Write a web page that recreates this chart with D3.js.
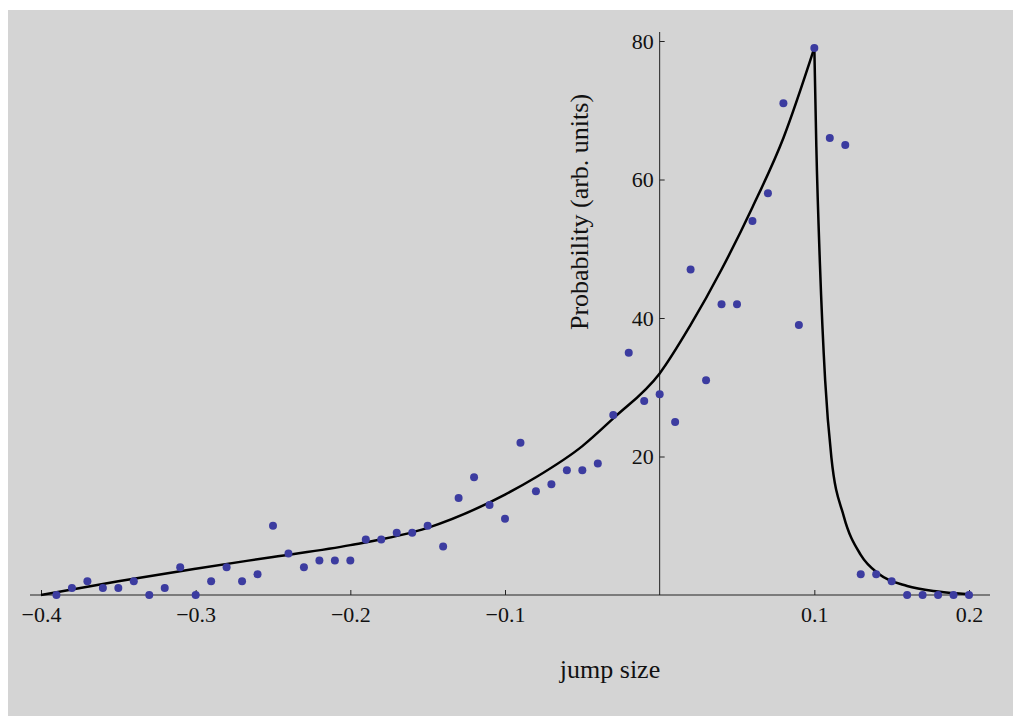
<!DOCTYPE html>
<html><head><meta charset="utf-8">
<script src="https://cdn.jsdelivr.net/npm/d3@7"></script>
<style>body{margin:0;background:#fff}svg{display:block}</style>
</head><body>
<script>
const pointX = d3.range(-39, 21).map(i => i / 100);
const pointY = [0,1,2,1,1,2,0,1,4,0,2,4,2,3,10,6,4,5,5,5,8,8,9,9,10,7,14,17,13,11,22,15,16,18,18,19,26,35,28,29,25,47,31,42,42,54,58,71,39,79,66,65,3,3,2,0,0,0,0,0];
const leftX = [-0.4,-0.35,-0.3,-0.25,-0.2,-0.15,-0.1,-0.08,-0.05,-0.03,0,0.02,0.04,0.06,0.08,0.1];
const leftY = [0,2,3.8,5.5,7.2,9.7,14.5,17,21.5,25.5,32,39,47,56,66,79];
const rightX = [0.1,0.1013,0.1036,0.107,0.111,0.119,0.13,0.142,0.16,0.18,0.2];
const rightY = [79,64.7,47.9,31,19.9,11.4,5.8,3,1.3,0.5,0.1];
const xTicks = [-0.4,-0.3,-0.2,-0.1,0.1,0.2];
const yTicks = [20,40,60,80];

const svg = d3.select("body").append("svg").attr("width",1024).attr("height",726);
svg.append("rect").attr("x",8).attr("y",10).attr("width",1005).attr("height",706).attr("fill","#d4d4d4");
const x = d3.scaleLinear().domain([-0.4,0.2]).range([41,969]);
const y = d3.scaleLinear().domain([0,80]).range([595,41]);
const font = "'Liberation Serif','DejaVu Serif',serif";

const xa = svg.append("g").attr("transform","translate(0,595)")
  .call(d3.axisBottom(x).tickValues(xTicks).tickSize(5).tickFormat(d=>d<0?"\u2212"+d3.format(".1f")(-d):d3.format(".1f")(d)));
xa.select(".domain").attr("d","M30,0H990").attr("stroke","#222");
xa.selectAll(".tick line").attr("y1",-5).attr("y2",0).attr("stroke","#222");
xa.selectAll("text").attr("font-family",font).attr("font-size",22).attr("fill","#111").attr("dy","0.85em");

const ya = svg.append("g").attr("transform",`translate(${x(0)},0)`)
  .call(d3.axisLeft(y).tickValues(yTicks).tickSize(5));
ya.select(".domain").attr("d","M0,595V32").attr("stroke","#222");
ya.selectAll(".tick line").attr("x1",5).attr("x2",0).attr("stroke","#222");
ya.selectAll("text").attr("font-family",font).attr("font-size",22).attr("fill","#111").attr("x",-6);

svg.append("text").attr("x",610).attr("y",678).attr("text-anchor","middle")
  .attr("font-family",font).attr("font-size",26).attr("fill","#111").text("jump size");
svg.append("text").attr("transform","translate(588,212) rotate(-90)").attr("text-anchor","middle")
  .attr("font-family",font).attr("font-size",26).attr("fill","#111").text("Probability (arb. units)");

const line = d3.line().x(d=>x(d[0])).y(d=>y(d[1])).curve(d3.curveMonotoneX);
[[leftX,leftY],[rightX,rightY]].forEach(([xs,ys])=>{
  svg.append("path").datum(xs.map((v,i)=>[v,ys[i]])).attr("d",line)
    .attr("fill","none").attr("stroke","#000").attr("stroke-width",2.5).attr("stroke-linejoin","miter");
});

svg.selectAll("circle.p").data(pointX.map((v,i)=>[v,pointY[i]])).enter().append("circle")
  .attr("cx",d=>x(d[0])).attr("cy",d=>y(d[1])).attr("r",4).attr("fill","#3c3ca0");
</script>
</body></html>
